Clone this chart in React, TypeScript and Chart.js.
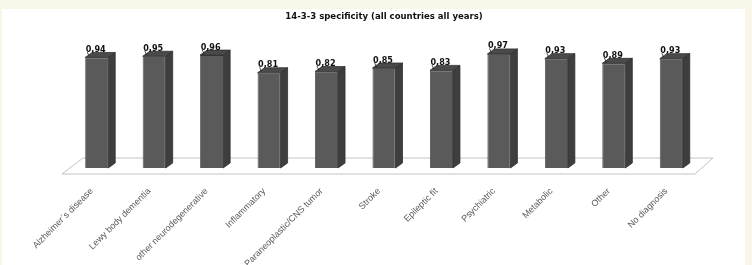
import React, { useEffect, useRef } from "react";
import { Chart, registerables } from "chart.js";

Chart.register(...registerables);

const TITLE = "14-3-3 specificity (all countries all years)";
const categories = [
  "Alzheimer´s disease",
  "Lewy body dementia",
  "other neurodegenerative",
  "Inflammatory",
  "Paraneoplastic/CNS tumor",
  "Stroke",
  "Epileptic fit",
  "Psychiatric",
  "Metabolic",
  "Other",
  "No diagnosis",
];
const specificity = [0.94, 0.95, 0.96, 0.81, 0.82, 0.85, 0.83, 0.97, 0.93, 0.89, 0.93];

const W = 752;
const H = 265;
const DX = 7;
const DY = 5;

const fmt = (v: number) => v.toFixed(2).replace(".", ",");

const bgPlugin = {
  id: "bgPanel",
  beforeDraw(chart: any) {
    const ctx = chart.ctx;
    ctx.save();
    ctx.fillStyle = "#f8f6e9";
    ctx.fillRect(0, 0, chart.width, chart.height);
    ctx.fillStyle = "#ffffff";
    ctx.fillRect(2, 9, 743, chart.height - 9);
    ctx.restore();
  },
};

const floorPlugin = {
  id: "floor3d",
  beforeDatasetsDraw(chart: any) {
    const { ctx, chartArea } = chart;
    const { left, right, bottom } = chartArea;
    ctx.save();
    ctx.beginPath();
    ctx.moveTo(left - 6, bottom + 6);
    ctx.lineTo(right - 5, bottom + 6);
    ctx.lineTo(right + 13, bottom - 10);
    ctx.lineTo(left + 15, bottom - 10);
    ctx.closePath();
    ctx.fillStyle = "#ffffff";
    ctx.fill();
    ctx.strokeStyle = "#c4c4c4";
    ctx.lineWidth = 1;
    ctx.stroke();
    ctx.restore();
  },
};

const bars3dPlugin = {
  id: "bars3d",
  afterDatasetsDraw(chart: any) {
    const ctx = chart.ctx;
    const meta = chart.getDatasetMeta(0);
    const data = chart.data.datasets[0].data as number[];
    ctx.save();
    meta.data.forEach((bar: any, i: number) => {
      const { x, y, base, width } = bar.getProps(["x", "y", "base", "width"], true);
      const l = x - width / 2;
      const r = x + width / 2;
      // side face
      ctx.beginPath();
      ctx.moveTo(r, y);
      ctx.lineTo(r + DX, y - DY);
      ctx.lineTo(r + DX, base - DY);
      ctx.lineTo(r, base);
      ctx.closePath();
      ctx.fillStyle = "#3e3e3e";
      ctx.fill();
      ctx.strokeStyle = "#2e2e2e";
      ctx.lineWidth = 0.8;
      ctx.stroke();
      // top face
      ctx.beginPath();
      ctx.moveTo(l, y);
      ctx.lineTo(l + DX, y - DY);
      ctx.lineTo(r + DX, y - DY);
      ctx.lineTo(r, y);
      ctx.closePath();
      ctx.fillStyle = "#4a4a4a";
      ctx.fill();
      ctx.stroke();
      // label
      ctx.beginPath();
      ctx.moveTo(l + 2, y - DY - 0.5);
      ctx.lineTo(l + 4, y - 1);
      ctx.strokeStyle = "#222";
      ctx.lineWidth = 0.8;
      ctx.stroke();
      ctx.fillStyle = "#111111";
      ctx.font = "bold 9px 'Liberation Sans Narrow', 'DejaVu Sans Condensed', sans-serif";
      ctx.textAlign = "center";
      ctx.textBaseline = "alphabetic";
      ctx.fillText(fmt(data[i]), x - 1, y - DY - 0.5);
    });
    ctx.restore();
  },
};

export default function App() {
  const ref = useRef<HTMLCanvasElement | null>(null);

  useEffect(() => {
    if (!ref.current) return;
    const chart = new Chart(ref.current, {
      type: "bar",
      data: {
        labels: categories,
        datasets: [
          {
            data: specificity,
            backgroundColor: "#5a5a5a",
            borderColor: "#3a3a3a",
            borderWidth: 0.8,
            barPercentage: 0.4,
            categoryPercentage: 1,
          },
        ],
      },
      options: {
        responsive: false,
        animation: false,
        devicePixelRatio: 1,
        layout: { padding: { left: 68, right: 52, top: 0, bottom: 0 } },
        plugins: {
          legend: { display: false },
          tooltip: { enabled: false },
          title: {
            display: true,
            text: TITLE,
            color: "#111111",
            font: { family: "'Liberation Sans Narrow', 'DejaVu Sans Condensed', sans-serif", size: 9.5, weight: "bold" },
            padding: { top: 11, bottom: 28 },
          },
        },
        scales: {
          x: {
            grid: { display: false, drawTicks: false },
            border: { display: false },
            ticks: {
              autoSkip: false,
              maxRotation: 45,
              minRotation: 45,
              padding: 18,
              labelOffset: -5,
              color: "#595959",
              font: { family: "'Liberation Sans', Arial, sans-serif", size: 9 },
            },
            afterFit(scale: any) {
              scale.height = 97;
            },
          },
          y: {
            display: false,
            min: 0,
            max: 1,
          },
        },
      },
      plugins: [bgPlugin, floorPlugin, bars3dPlugin],
    });
    return () => chart.destroy();
  }, []);

  return (
    <div style={{ position: "fixed", left: 0, top: 0, width: W, height: H }}>
      <canvas ref={ref} width={W} height={H} style={{ display: "block", width: W, height: H }} />
    </div>
  );
}
